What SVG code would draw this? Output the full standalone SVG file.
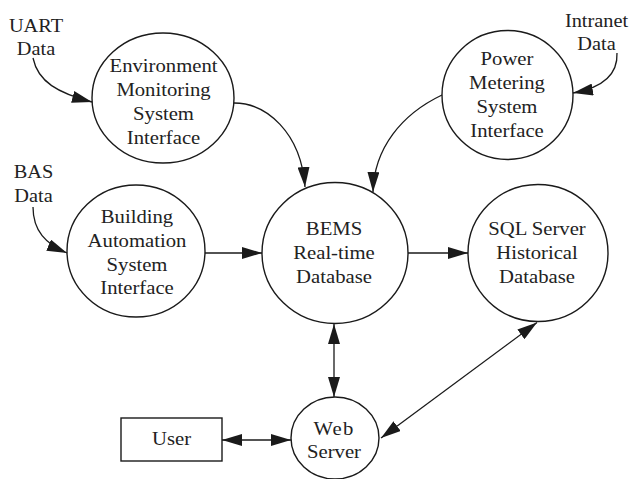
<svg xmlns="http://www.w3.org/2000/svg" width="632" height="479" viewBox="0 0 632 479">
  <style>
    .node { fill: #ffffff; stroke: #1a1a1a; stroke-width: 1.4; }
    .lbl { font-family: "Liberation Serif", "Times New Roman", serif; font-size: 18px; fill: #222222; text-anchor: middle; }
    .wire { fill: none; stroke: #1a1a1a; stroke-width: 1.3; }
  </style>
  <defs>
    <marker id="head" viewBox="0 0 20 12" markerUnits="userSpaceOnUse" markerWidth="20" markerHeight="12" refX="20" refY="6" orient="auto-start-reverse">
      <path d="M0,0 L20,6 L0,12 Z" fill="#1a1a1a"/>
    </marker>
  </defs>
  <rect width="632" height="479" fill="#ffffff"/>

  <!-- external data sources -->
  <g id="uart-data">
    <g transform="translate(36 0) scale(1.13 1)">
      <text class="lbl" x="0" y="32">UART</text>
      <text class="lbl" x="0" y="55">Data</text>
    </g>
  </g>
  <g id="bas-data">
    <g transform="translate(33.5 0) scale(1.13 1)">
      <text class="lbl" x="0" y="178">BAS</text>
      <text class="lbl" x="0" y="202">Data</text>
    </g>
  </g>
  <g id="intranet-data">
    <g transform="translate(596.5 0) scale(1.13 1)">
      <text class="lbl" x="0" y="27">Intranet</text>
      <text class="lbl" x="0" y="50">Data</text>
    </g>
  </g>

  <!-- processes -->
  <g id="env-monitoring">
    <ellipse class="node" cx="163" cy="98" rx="71" ry="65"/>
    <g transform="translate(163.5 0) scale(1.15 1)">
      <text class="lbl" x="0" y="72">Environment</text>
      <text class="lbl" x="0" y="96">Monitoring</text>
      <text class="lbl" x="0" y="120">System</text>
      <text class="lbl" x="0" y="144.5">Interface</text>
    </g>
  </g>
  <g id="power-metering">
    <ellipse class="node" cx="507.5" cy="95" rx="65.5" ry="64.5"/>
    <g transform="translate(507 0) scale(1.15 1)">
      <text class="lbl" x="0" y="65">Power</text>
      <text class="lbl" x="0" y="89">Metering</text>
      <text class="lbl" x="0" y="113">System</text>
      <text class="lbl" x="0" y="137">Interface</text>
    </g>
  </g>
  <g id="building-automation">
    <ellipse class="node" cx="136" cy="251" rx="69" ry="66"/>
    <g transform="translate(137 0) scale(1.15 1)">
      <text class="lbl" x="0" y="223">Building</text>
      <text class="lbl" x="0" y="247">Automation</text>
      <text class="lbl" x="0" y="271">System</text>
      <text class="lbl" x="0" y="294.5">Interface</text>
    </g>
  </g>
  <g id="bems-db">
    <ellipse class="node" cx="335" cy="253" rx="73" ry="70.5"/>
    <g transform="translate(334 0) scale(1.15 1)">
      <text class="lbl" x="0" y="235">BEMS</text>
      <text class="lbl" x="0" y="259">Real-time</text>
      <text class="lbl" x="0" y="283">Database</text>
    </g>
  </g>
  <g id="sql-db">
    <ellipse class="node" cx="538" cy="253" rx="70" ry="68.5"/>
    <g transform="translate(537 0) scale(1.15 1)">
      <text class="lbl" x="0" y="235">SQL Server</text>
      <text class="lbl" x="0" y="259">Historical</text>
      <text class="lbl" x="0" y="283">Database</text>
    </g>
  </g>
  <g id="web-server">
    <ellipse class="node" cx="335" cy="438" rx="44" ry="41"/>
    <g transform="translate(334 0) scale(1.15 1)">
      <text class="lbl" x="0" y="435" letter-spacing="1">Web</text>
      <text class="lbl" x="0" y="458">Server</text>
    </g>
  </g>
  <g id="user">
    <rect class="node" x="121" y="418" width="101" height="43"/>
    <g transform="translate(171.5 0) scale(1.15 1)">
      <text class="lbl" x="0" y="445">User</text>
    </g>
  </g>

  <!-- data flows -->
  <g id="connectors">
    <path class="wire" d="M33,58 C38,82 58,93 92,102" marker-end="url(#head)"/>
    <path class="wire" d="M33,207 C33,231 46,244 67,253" marker-end="url(#head)"/>
    <path class="wire" d="M617,53 C618,76 601,88 573,93" marker-end="url(#head)"/>
    <path class="wire" d="M234,103 C266,103 301,132 305,187" marker-end="url(#head)"/>
    <path class="wire" d="M442,95 C402,114 374,148 373,192" marker-end="url(#head)"/>
    <path class="wire" d="M205,253 L262,253" marker-end="url(#head)"/>
    <path class="wire" d="M408,253 L468,253" marker-end="url(#head)"/>
    <path class="wire" d="M334,324 L334,397" marker-start="url(#head)" marker-end="url(#head)"/>
    <path class="wire" d="M537,322.5 L381,438" marker-start="url(#head)" marker-end="url(#head)"/>
    <path class="wire" d="M222,440 L291,440" marker-start="url(#head)" marker-end="url(#head)"/>
  </g>
</svg>
